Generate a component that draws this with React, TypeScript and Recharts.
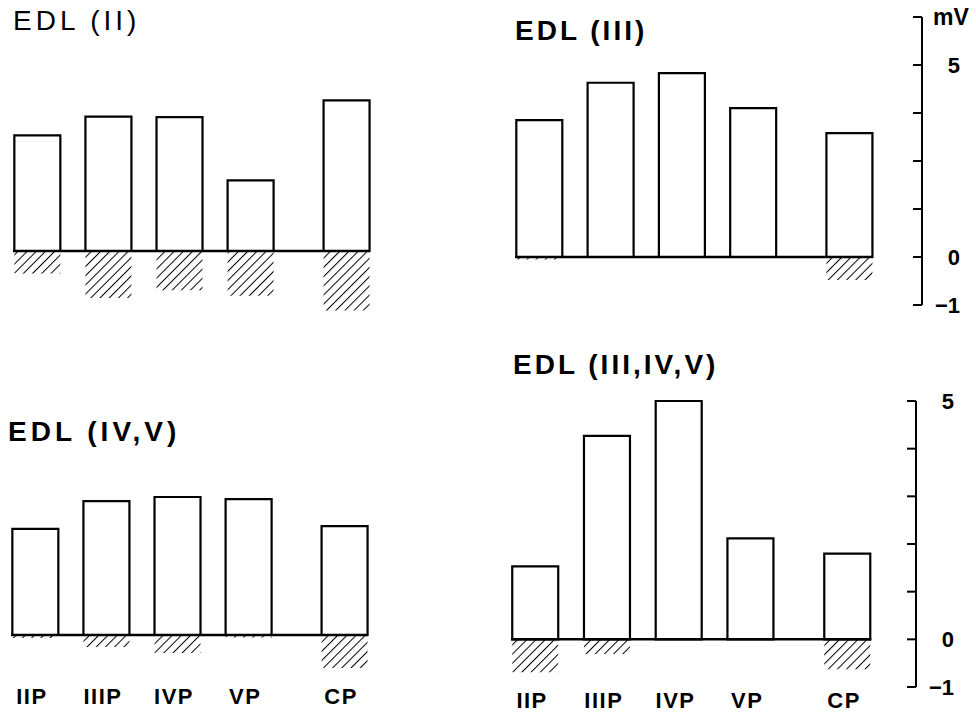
import { BarChart, Bar, XAxis, YAxis, ReferenceLine } from "recharts";

// category positions along the x axis (CP sits a little further out)
const positions = [0, 1, 2, 3, 4.35];
const categories = ["IIP", "IIIP", "IVP", "VP", "CP"];

// mV, upward deflection (open bars) and downward deflection (hatched)
const edl2Pos = [2.41, 2.8, 2.79, 1.47, 3.14];
const edl2Neg = [-0.47, -0.98, -0.82, -0.93, -1.24];

const edl3Pos = [2.85, 3.63, 3.83, 3.1, 2.58];
const edl3Neg = [-0.05, 0, 0, 0, -0.48];

const edl45Pos = [2.21, 2.79, 2.875, 2.83, 2.27];
const edl45Neg = [-0.06, -0.25, -0.375, -0.05, -0.69];

const edl345Pos = [1.53, 4.27, 5.0, 2.12, 1.8];
const edl345Neg = [-0.69, -0.31, 0, 0, -0.63];

const axisTicks = [-1, 0, 1, 2, 3, 4, 5];
const mvTickLabels: Record<number, string> = { 5: "mV", 4: "5", 0: "0", [-1]: "−1" };
const plainTickLabels: Record<number, string> = { 5: "5", 0: "0", [-1]: "−1" };

const FONT = "'Liberation Sans', Arial, sans-serif";
const HALF = 0.336;
const MX = 4;
const MY = 18;
const AXW = 54;
const XAH = 32;

function AxisTick(props: any) {
  const { x, y, payload, labels } = props;
  const label = labels[payload.value] ?? "";
  const isUnit = label === "mV";
  return (
    <g>
      <line x1={x - 9} x2={x} y1={y} y2={y} stroke="#000" strokeWidth={2} />
      {label !== "" && (
        <text
          x={isUnit ? x + 11 : x + 38}
          y={y}
          dy="0.36em"
          textAnchor={isUnit ? "start" : "end"}
          fontSize={isUnit ? 23 : 22}
          fontWeight="bold"
          fontFamily={FONT}
          fill="#000"
        >
          {label}
        </text>
      )}
    </g>
  );
}

type PanelProps = {
  id: string;
  pos: number[];
  neg: number[];
  plotLeft: number;
  plotTop: number;
  plotWidth: number;
  plotHeight: number;
  yMin: number;
  yMax: number;
  xMax: number;
  axisLabels?: Record<number, string>;
  showCategories?: boolean;
};

function Panel({
  id,
  pos,
  neg,
  plotLeft,
  plotTop,
  plotWidth,
  plotHeight,
  yMin,
  yMax,
  xMax,
  axisLabels,
  showCategories,
}: PanelProps) {
  const data = categories.map((name, i) => ({
    name,
    x: positions[i],
    pos: pos[i],
    neg: neg[i],
  }));
  const hasAxis = !!axisLabels;
  const width = plotWidth + MX + (hasAxis ? AXW : MX);
  const height = plotHeight + MY + (showCategories ? XAH : MY);

  return (
    <div style={{ position: "absolute", left: plotLeft - MX, top: plotTop - MY }}>
      <BarChart
        width={width}
        height={height}
        data={data}
        stackOffset="sign"
        margin={{
          top: MY,
          left: MX,
          right: hasAxis ? 0 : MX,
          bottom: showCategories ? 0 : MY,
        }}
      >
        <defs>
          <pattern
            id={`hatch-${id}`}
            patternUnits="userSpaceOnUse"
            width={6.5}
            height={6.5}
            patternTransform="rotate(45)"
          >
            <line x1={0} y1={0} x2={0} y2={6.5} stroke="#000" strokeWidth={2} />
          </pattern>
        </defs>
        <XAxis
          type="number"
          dataKey="x"
          domain={[-HALF, xMax]}
          ticks={positions}
          hide={!showCategories}
          height={XAH}
          axisLine={false}
          tickLine={false}
          tickSize={0}
          tickMargin={5}
          interval={0}
          tickFormatter={(v: number) => categories[positions.indexOf(v)] ?? ""}
          tick={{
            fontSize: 22,
            fontWeight: "bold",
            fill: "#000",
            fontFamily: FONT,
            letterSpacing: 1.5,
            dx: -3,
          }}
        />
        <YAxis
          type="number"
          domain={[yMin, yMax]}
          ticks={axisTicks}
          hide={!hasAxis}
          orientation="right"
          width={AXW}
          interval={0}
          axisLine={{ stroke: "#000", strokeWidth: 2 }}
          tickLine={false}
          tickSize={0}
          tickMargin={0}
          tick={<AxisTick labels={axisLabels ?? {}} />}
        />
        <Bar
          dataKey="pos"
          stackId="s"
          barSize={46}
          fill="#fff"
          stroke="#000"
          strokeWidth={2.2}
          isAnimationActive={false}
        />
        <Bar
          dataKey="neg"
          stackId="s"
          barSize={46}
          fill={`url(#hatch-${id})`}
          isAnimationActive={false}
        />
        <ReferenceLine
          segment={[
            { x: positions[0] - HALF, y: 0 },
            { x: positions[positions.length - 1] + HALF, y: 0 },
          ]}
          stroke="#000"
          strokeWidth={2.5}
          ifOverflow="visible"
        />
      </BarChart>
    </div>
  );
}

function Title({ text, left, top, bold, spacing }: { text: string; left: number; top: number; bold?: boolean; spacing: number }) {
  return (
    <div
      style={{
        position: "absolute",
        left,
        top,
        fontFamily: FONT,
        fontSize: 28,
        lineHeight: "28px",
        fontWeight: bold ? "bold" : "normal",
        letterSpacing: spacing,
        whiteSpace: "pre",
        color: "#000",
      }}
    >
      {text}
    </div>
  );
}

export default function App() {
  return (
    <div
      style={{
        position: "absolute",
        left: 0,
        top: 0,
        width: 976,
        height: 717,
        background: "#fff",
        overflow: "hidden",
      }}
    >
      <Title text="EDL (II)" left={13} top={7} spacing={4} />
      <Title text="EDL (III)" left={515} top={17} bold spacing={3} />
      <Title text="EDL (IV,V)" left={8} top={418} bold spacing={4} />
      <Title text="EDL (III,IV,V)" left={513} top={351} bold spacing={3} />

      <Panel
        id="tl"
        pos={edl2Pos}
        neg={edl2Neg}
        plotLeft={13}
        plotTop={10.5}
        plotWidth={357}
        plotHeight={302.4}
        yMin={-1.3}
        yMax={5}
        xMax={4.686}
      />
      <Panel
        id="tr"
        pos={edl3Pos}
        neg={edl3Neg}
        plotLeft={515}
        plotTop={17}
        plotWidth={407}
        plotHeight={288}
        yMin={-1}
        yMax={5}
        xMax={5.373}
        axisLabels={mvTickLabels}
      />
      <Panel
        id="bl"
        pos={edl45Pos}
        neg={edl45Neg}
        plotLeft={11}
        plotTop={395}
        plotWidth={357}
        plotHeight={288}
        yMin={-1}
        yMax={5}
        xMax={4.686}
        showCategories
      />
      <Panel
        id="br"
        pos={edl345Pos}
        neg={edl345Neg}
        plotLeft={511}
        plotTop={401}
        plotWidth={405}
        plotHeight={286}
        yMin={-1}
        yMax={5}
        xMax={5.31}
        axisLabels={plainTickLabels}
        showCategories
      />
    </div>
  );
}
